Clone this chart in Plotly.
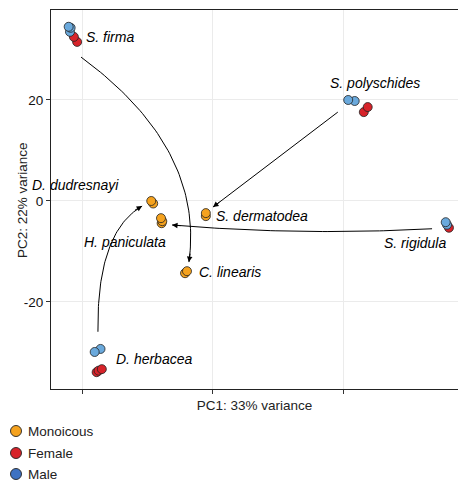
import plotly.graph_objects as go

# ---- data ----
species = ["S. firma"] * 5 + ["S. polyschides"] * 4 + ["D. herbacea"] * 5 + ["S. rigidula"] * 3 + \
          ["D. dudresnayi"] * 2 + ["H. paniculata"] * 3 + ["S. dermatodea"] * 2 + ["C. linearis"] * 2
sex = ["Female", "Female", "Male", "Male", "Male",
       "Female", "Female", "Male", "Male",
       "Female", "Female", "Female", "Male", "Male",
       "Female", "Male", "Male",
       "Monoicous", "Monoicous",
       "Monoicous", "Monoicous", "Monoicous",
       "Monoicous", "Monoicous",
       "Monoicous", "Monoicous"]
pc1 = [-20.9, -21.4, -22.0, -21.9, -22.2,
       23.2, 23.8, 21.8, 20.8,
       -17.9, -17.6, -17.1, -17.3, -18.2,
       36.3, 36.0, 35.8,
       -9.2, -9.5,
       -7.9, -7.8, -8.0,
       -1.1, -1.1,
       -4.3, -4.0]
pc2 = [31.5, 32.5, 33.5, 34.3, 34.5,
       17.6, 18.6, 19.8, 20.0,
       -33.9, -33.6, -33.3, -29.3, -29.9,
       -5.3, -4.7, -4.2,
       -0.5, 0.0,
       -4.4, -4.0, -3.4,
       -3.0, -2.4,
       -14.3, -13.9]

sex_levels = ["Monoicous", "Female", "Male"]
point_colors = {"Monoicous": "#F5A21E", "Female": "#D7232A", "Male": "#6AA9DC"}
legend_colors = {"Monoicous": "#F5A21E", "Female": "#D7232A", "Male": "#3E72C2"}

label_text = ["S. firma", "S. polyschides", "D. dudresnayi", "S. dermatodea",
              "H. paniculata", "C. linearis", "D. herbacea", "S. rigidula"]
label_x = [-19.85, 24.9, -21.2, 0.15, -13.5, -2.5, -15.2, 31.1]
label_y = [32.5, 23.4, 3.2, -3.0, -8.1, -14.1, -31.3, -8.3]
label_anchor = ["left", "center", "center", "left", "center", "left", "left", "center"]

# arrows: start, control, end (quadratic curves)
arrow_x0 = [-20.3, 19.2, 33.7, -17.7]
arrow_y0 = [28.5, 17.6, -5.5, -25.9]
arrow_cx = [-1.3, 9.6, 13.4, -17.9]
arrow_cy = [10.5, 8.2, -6.9, -6.2]
arrow_x1 = [-3.7, 0.0, -6.3, -10.9]
arrow_y1 = [-12.1, -1.2, -4.75, -1.0]

x_ticks = [-20, 0, 20]
y_ticks = [-20, 0, 20]
x_range = [-24.92, 37.69]
y_range = [-37.23, 37.82]

W, H = 458, 485
ML, MR, MT, MB = 51, 0, 10, 96
PW, PH = W - ML - MR, H - MT - MB

fig = go.Figure()

pxu = PW / (x_range[1] - x_range[0])
pyu = PH / (y_range[1] - y_range[0])

# curves
for i in range(len(arrow_x0)):
    n = 60
    xs, ys = [], []
    for k in range(n + 1):
        t = k / n
        xs.append((1 - t) ** 2 * arrow_x0[i] + 2 * t * (1 - t) * arrow_cx[i] + t ** 2 * arrow_x1[i])
        ys.append((1 - t) ** 2 * arrow_y0[i] + 2 * t * (1 - t) * arrow_cy[i] + t ** 2 * arrow_y1[i])
    fig.add_trace(go.Scatter(x=xs, y=ys, mode="lines", line=dict(color="black", width=1),
                             showlegend=False, hoverinfo="skip"))
    dx = (arrow_x1[i] - arrow_cx[i]) * pxu
    dy = -(arrow_y1[i] - arrow_cy[i]) * pyu
    norm = (dx ** 2 + dy ** 2) ** 0.5
    L = 10
    fig.add_annotation(x=arrow_x1[i], y=arrow_y1[i], xref="x", yref="y",
                       ax=-dx / norm * L, ay=-dy / norm * L, axref="pixel", ayref="pixel",
                       showarrow=True, arrowhead=2, arrowsize=1.1, arrowwidth=1,
                       arrowcolor="black", text="", standoff=0)

# points
for s in ["Female", "Male", "Monoicous"]:
    xs = [pc1[i] for i in range(len(pc1)) if sex[i] == s]
    ys = [pc2[i] for i in range(len(pc2)) if sex[i] == s]
    fig.add_trace(go.Scatter(x=xs, y=ys, mode="markers",
                             marker=dict(size=9, color=point_colors[s],
                                         line=dict(color="#222222", width=0.8)),
                             showlegend=False))

for t, x, y, a in zip(label_text, label_x, label_y, label_anchor):
    fig.add_annotation(x=x, y=y, text=t, showarrow=False, xanchor=a, yanchor="middle",
                       font=dict(size=14, color="black", style="italic",
                                 family="Liberation Sans, Arial, sans-serif"))

# manual legend (bottom-left)
leg_px_x = 16
leg_px_y = [431, 453, 474]
for s, py in zip(sex_levels, leg_px_y):
    xp = (leg_px_x - ML) / PW
    yp = (H - MB - py) / PH
    fig.add_shape(type="circle", xref="paper", yref="paper",
                  xsizemode="pixel", ysizemode="pixel", xanchor=xp, yanchor=yp,
                  x0=-5.5, x1=5.5, y0=-5.5, y1=5.5,
                  fillcolor=legend_colors[s], line=dict(color="#222222", width=0.9))
    fig.add_annotation(xref="paper", yref="paper", x=(leg_px_x + 10 - ML) / PW, y=yp,
                       text=s, showarrow=False, xanchor="left", yanchor="middle",
                       font=dict(size=13.5, color="#222222"))

# y-axis title placed precisely
fig.add_annotation(xref="paper", yref="paper", x=(22 - ML) / PW, y=(H - MB - 200) / PH,
                   text="PC2: 22% variance", textangle=-90, showarrow=False,
                   xanchor="center", yanchor="middle",
                   font=dict(size=13.5, color="#222222"))

fig.update_layout(
    width=W, height=H,
    margin=dict(l=ML, r=MR, t=MT, b=MB, autoexpand=False),
    plot_bgcolor="white", paper_bgcolor="white",
    font=dict(family="Liberation Sans, Arial, sans-serif", size=13.5, color="#222222"),
    showlegend=False,
    xaxis=dict(range=x_range, tickvals=x_ticks, showticklabels=False,
               showgrid=True, gridcolor="#EBEBEB", gridwidth=1, zeroline=False,
               showline=True, linecolor="#222222", linewidth=1, mirror=True,
               ticks="outside", ticklen=4, tickcolor="#333333",
               title=dict(text="PC1: 33% variance", standoff=7,
                          font=dict(size=13.5, color="#222222"))),
    yaxis=dict(range=y_range, tickvals=y_ticks, ticktext=["-20", "0", "20"],
               showgrid=True, gridcolor="#EBEBEB", gridwidth=1, zeroline=False,
               showline=True, linecolor="#222222", linewidth=1, mirror=False,
               ticks="outside", ticklen=4, tickcolor="#333333",
               tickfont=dict(size=13.5, color="#111111")),
)

fig.write_html("out.html")
